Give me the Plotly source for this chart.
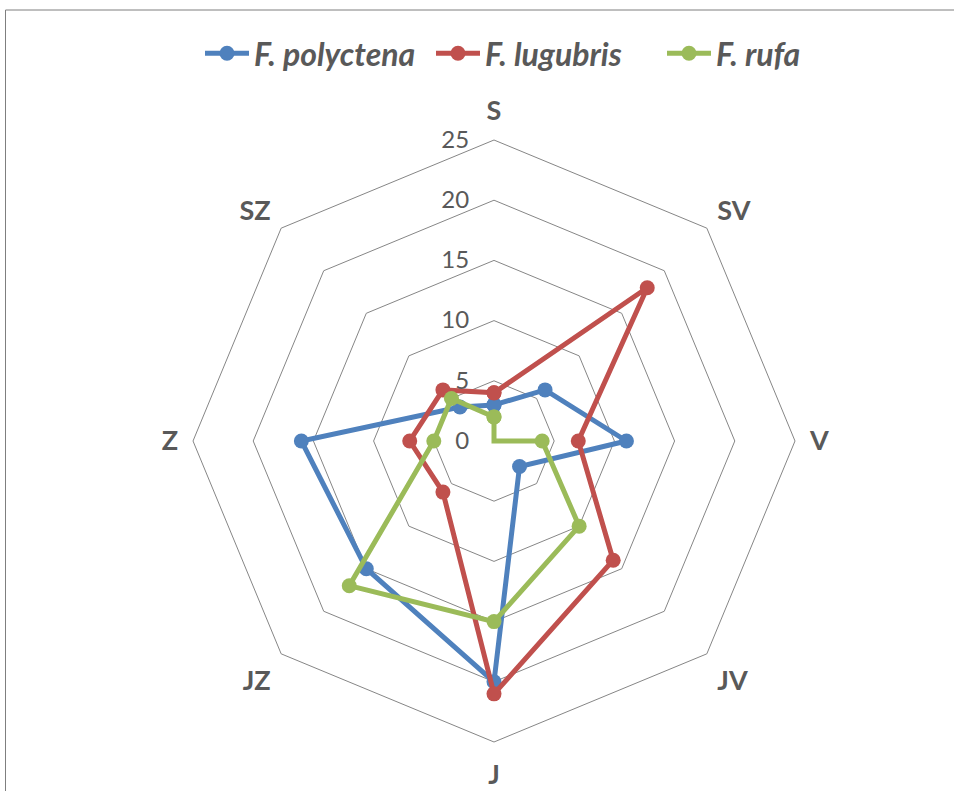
import plotly.graph_objects as go

# Compass directions (Slovak abbreviations) and counts per species
directions = ["S", "SV", "V", "JV", "J", "JZ", "Z", "SZ"]
polyctena = [3, 6, 11, 3, 20, 15, 16, 4]
lugubris = [4, 18, 7, 14, 21, 6, 7, 6]
rufa = [2, 0, 4, 10, 15, 17, 5, 5]
radial_ticks = [0, 5, 10, 15, 20, 25]

series = [
    ("F. polyctena", polyctena, "#4F81BD"),
    ("F. lugubris", lugubris, "#C0504D"),
    ("F. rufa", rufa, "#9BBB59"),
]

FONT = "Lato, 'Open Sans', sans-serif"
TEXT = "#595959"

fig = go.Figure()
for name, vals, color in series:
    fig.add_trace(go.Scatterpolar(
        r=vals + vals[:1],
        theta=directions + directions[:1],
        mode="lines+markers",
        name=name,
        line=dict(color=color, width=5),
        marker=dict(color=color, size=15),
    ))

W, H = 954, 791
cx, cy, R = 494, 441, 301

fig.update_layout(
    width=W, height=H,
    margin=dict(l=0, r=0, t=0, b=0),
    paper_bgcolor="white",
    plot_bgcolor="white",
    font=dict(family=FONT, color=TEXT),
    showlegend=True,
    legend=dict(
        orientation="h",
        x=200 / W, xanchor="left",
        y=1 - 26 / H, yanchor="top",
        font=dict(size=32, family=FONT, color=TEXT, weight="bold", style="italic"),
        itemwidth=44,
        entrywidth=172,
        entrywidthmode="pixels",
    ),
    polar=dict(
        domain=dict(x=[(cx - R) / W, (cx + R) / W],
                    y=[(H - cy - R) / H, (H - cy + R) / H]),
        bgcolor="white",
        gridshape="linear",
        radialaxis=dict(
            range=[0, 25],
            tickvals=radial_ticks,
            angle=90,
            tickangle=90,
            side="counterclockwise",
            showline=False,
            gridcolor="#868686",
            gridwidth=1,
            ticks="outside",
            ticklen=16,
            tickcolor="rgba(0,0,0,0)",
            tickfont=dict(size=24, family=FONT, color=TEXT),
        ),
        angularaxis=dict(
            rotation=90,
            direction="clockwise",
            showgrid=False,
            showline=True,
            linecolor="#868686",
            linewidth=1,
            ticks="outside",
            ticklen=9,
            tickcolor="rgba(0,0,0,0)",
            tickfont=dict(size=27, family=FONT, color=TEXT, weight="bold"),
        ),
    ),
    shapes=[
        dict(type="line", xref="paper", yref="paper",
             x0=5.5 / W, x1=5.5 / W, y0=0, y1=1 - 10 / H,
             line=dict(color="#7f7f7f", width=1)),
        dict(type="line", xref="paper", yref="paper",
             x0=5.5 / W, x1=1, y0=1 - 10 / H, y1=1 - 10 / H,
             line=dict(color="#7f7f7f", width=1)),
    ],
)

fig.write_html("out.html")
